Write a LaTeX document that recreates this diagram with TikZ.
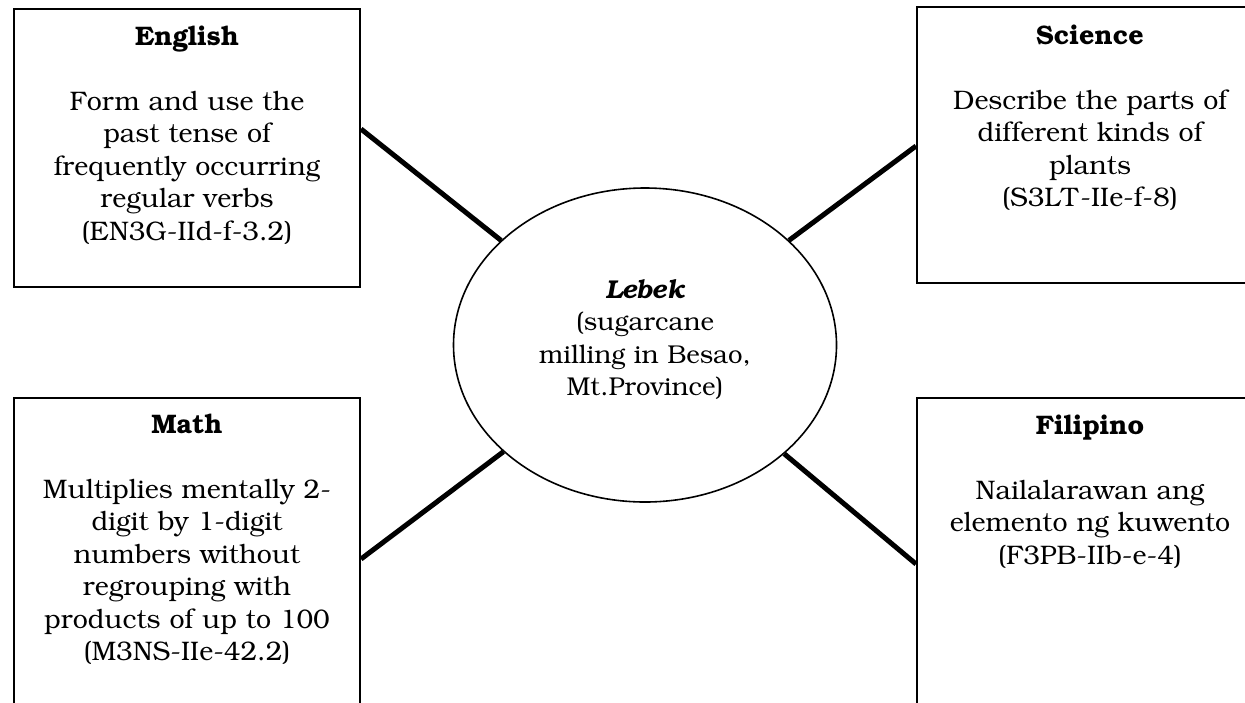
\documentclass[tikz,border=0pt]{standalone}
\usepackage[T1]{fontenc}
\usepackage{bookman}
\usetikzlibrary{shapes.geometric,calc}

\begin{document}
\begin{tikzpicture}[x=0.5pt,y=-0.5pt,
  subject/.style={draw, line width=1pt, inner sep=0, minimum width=173pt},
  topic/.style={draw, ellipse, line width=0.8pt, inner sep=0,
    minimum width=191.5pt, minimum height=157pt},
  boxtext/.style={align=center, text width=172pt, anchor=base, inner sep=0,
    font=\fontsize{13.4}{16.25}\selectfont},
  link/.style={line width=2.5pt}]
\useasboundingbox (0,0) rectangle (1245,702);
\clip (0,0) rectangle (1245,702);

% subject boxes
\node[subject, minimum height=139pt] (eng) at (187,148) {};
\node[subject, minimum height=138pt] (sci) at (1090,145) {};
\node[subject, minimum height=181pt] (math) at (187,579) {};
\node[subject, minimum height=181pt] (fil) at (1090,579) {};

% central topic
\node[topic] (lebek) at (645,345) {};

% connectors
\draw[link] (lebek.144) -- ($(eng.north east)+(0,121)$);
\draw[link] (lebek.36) -- ($(sci.north west)+(0,140)$);
\draw[link] (lebek.217) -- ($(math.north east)+(0,162)$);
\draw[link] (lebek.322) -- ($(fil.north west)+(0,167)$);

% texts
\node[boxtext] (engT) at (187,45) {\textbf{English}\\[16.25pt]
  Form and use the\\past tense of\\frequently occurring\\regular verbs\\(EN3G-IId-f-3.2)};
\node[boxtext] (sciT) at (1090,44) {\textbf{Science}\\[16.25pt]
  Describe the parts of\\different kinds of\\plants\\(S3LT-IIe-f-8)};
\node[boxtext] (mathT) at (187,433) {\textbf{Math}\\[16.25pt]
  Multiplies mentally 2-\\digit by 1-digit\\numbers without\\regrouping with\\products of up to 100\\(M3NS-IIe-42.2)};
\node[boxtext] (filT) at (1090,434) {\textbf{Filipino}\\[16.25pt]
  Nailalarawan ang\\elemento ng kuwento\\(F3PB-IIb-e-4)};
\node[boxtext, font=\fontsize{12.9}{16.25}\selectfont] (lebekT) at (645,298)
  {{\bfseries\itshape Lebek}\\(sugarcane\\milling in Besao,\\Mt.Province)};
\end{tikzpicture}
\end{document}
